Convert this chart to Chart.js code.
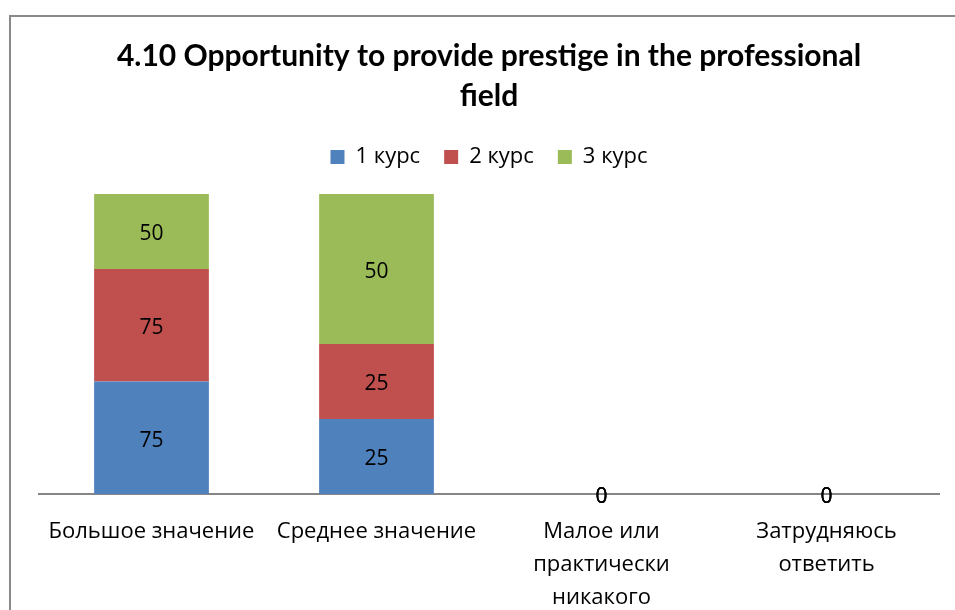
<!DOCTYPE html>
<html lang="ru">
<head>
    <meta charset="UTF-8">
    <title>4.10 Opportunity to provide prestige</title>
    <script src="https://cdn.jsdelivr.net/npm/chart.js"></script>
    <style>
        body {
            margin: 0;
            background: #fff;
            overflow: hidden;
        }

        .frame {
            position: absolute;
            left: 9px;
            top: 15px;
            width: 970px;
            height: 620px;
            border-left: 2px solid #898989;
            border-top: 2px solid #898989;
        }
    </style>
</head>
<body>

    <div class="frame">
        <canvas id="chart" width="954" height="600"></canvas>
    </div>

    <script>
        // categories (multi-line where the original wraps)
        const categories = [
            'Большое значение',
            'Среднее значение',
            ['Малое или', 'практически', 'никакого'],
            ['Затрудняюсь', 'ответить']
        ];
        const seriesNames = ['1 курс', '2 курс', '3 курс'];
        const course1 = [75, 25, 0, 0];
        const course2 = [75, 25, 0, 0];
        const course3 = [50, 50, 0, 0];
        const colors = ['#4F81BD', '#C0504D', '#9BBB59'];

        const raw = [course1, course2, course3];
        // 100% stacked: share of each course inside the category
        const totals = categories.map((c, i) => raw.reduce((s, arr) => s + arr[i], 0));
        const shares = raw.map(arr => arr.map((v, i) => totals[i] ? v / totals[i] * 100 : 0));

        const font = "'Open Sans', 'Noto Sans', sans-serif";

        // draw the value in the middle of each segment
        const valueLabels = {
            id: 'valueLabels',
            afterDatasetsDraw(chart) {
                const ctx = chart.ctx;
                ctx.save();
                ctx.font = '21px ' + font;
                ctx.fillStyle = '#000';
                ctx.textAlign = 'center';
                ctx.textBaseline = 'middle';
                chart.data.datasets.forEach((ds, di) => {
                    chart.getDatasetMeta(di).data.forEach((bar, i) => {
                        const y = (bar.y + bar.base) / 2;
                        ctx.fillText(String(raw[di][i]), bar.x, y + 3);
                    });
                });
                ctx.restore();
            }
        };

        // extra room between the legend and the bars
        const legendGap = {
            id: 'legendGap',
            beforeLayout(chart) {
                const lg = chart.legend;
                if (lg && !lg._gapPatched) {
                    const fit = lg.fit;
                    lg.fit = function () {
                        fit.call(this);
                        this.height += 16;
                    };
                    lg._gapPatched = true;
                }
            }
        };

        new Chart(document.getElementById('chart'), {
            type: 'bar',
            data: {
                labels: categories,
                datasets: seriesNames.map((name, i) => ({
                    label: name,
                    data: shares[i],
                    backgroundColor: colors[i],
                    borderWidth: 0,
                    categoryPercentage: 1,
                    barPercentage: 0.51
                }))
            },
            options: {
                responsive: false,
                animation: false,
                devicePixelRatio: 1,
                layout: {
                    padding: { left: 28, right: 26, top: 0, bottom: 0 }
                },
                scales: {
                    x: {
                        stacked: true,
                        grid: { display: false },
                        border: { display: true, color: '#868686', width: 2 },
                        ticks: {
                            color: '#000',
                            padding: 13,
                            maxRotation: 0,
                            autoSkip: false,
                            font: { family: font, size: 22, lineHeight: 1.5 }
                        },
                        afterFit(scale) { scale.height = 123; }
                    },
                    y: {
                        stacked: true,
                        display: false,
                        min: 0,
                        max: 100
                    }
                },
                plugins: {
                    title: {
                        display: true,
                        text: ['4.10 Opportunity to provide prestige in the professional', 'field'],
                        color: '#000',
                        font: { family: "Lato, 'Open Sans', sans-serif", size: 30, weight: 'bold', lineHeight: 1.333 },
                        padding: { top: 19, bottom: 6 }
                    },
                    legend: {
                        position: 'top',
                        labels: {
                            color: '#000',
                            boxWidth: 14,
                            boxHeight: 14,
                            padding: 24,
                            font: { family: font, size: 22 }
                        }
                    },
                    tooltip: { enabled: false }
                }
            },
            plugins: [valueLabels, legendGap]
        });
    </script>

</body>
</html>
